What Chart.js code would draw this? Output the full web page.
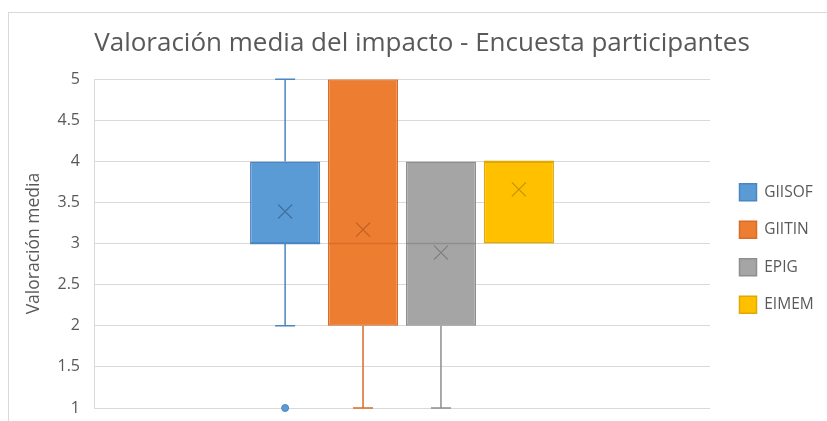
<!DOCTYPE html>
<html>
<head>
<meta charset="utf-8">
<script src="https://cdn.jsdelivr.net/npm/chart.js@4/dist/chart.umd.min.js"></script>
<style>
  html, body { margin: 0; padding: 0; background: #fff; }
  #wrap { position: relative; width: 827px; height: 421px; }
  #frame { position: absolute; left: 8px; top: 12px; right: -2px; bottom: -2px;
           border-top: 1px solid #d9d9d9; border-left: 1px solid #d9d9d9; }
  #c { position: absolute; left: 0; top: 0; }
</style>
</head>
<body>
<div id="wrap">
  <div id="frame"></div>
  <canvas id="c" width="827" height="421"></canvas>
</div>
<script>
const series = ['GIISOF', 'GIITIN', 'EPIG', 'EIMEM'];
const minVals = [2, 1, 1, 3];
const q1Vals = [3, 2, 2, 3];
const medianVals = [3, 3, 3, 4];
const q3Vals = [4, 5, 4, 4];
const maxVals = [5, 5, 4, 4];
const meanVals = [3.39, 3.17, 2.89, 3.66];
const outlierVals = [[1], [], [], []];
const yTicks = [1, 1.5, 2, 2.5, 3, 3.5, 4, 4.5, 5];

const fills = ['#5B9BD5', '#ED7D31', '#A5A5A5', '#FFC000'];
const edges = ['#4A86C2', '#D96D27', '#8E8E8E', '#E0A800'];
const marks = ['#41719C', '#BE5F26', '#7F7F7F', '#C49300'];

const boxExtras = {
  id: 'boxExtras',
  afterDatasetsDraw(chart) {
    const ctx = chart.ctx;
    const y = chart.scales.y;
    series.forEach((s, i) => {
      const bar = chart.getDatasetMeta(i).data[0];
      const x = bar.x, w = bar.width;
      ctx.save();
      ctx.strokeStyle = edges[i];
      ctx.lineWidth = 1.5;
      ctx.beginPath();
      if (maxVals[i] > q3Vals[i]) {
        ctx.moveTo(x, y.getPixelForValue(q3Vals[i]));
        ctx.lineTo(x, y.getPixelForValue(maxVals[i]));
        ctx.moveTo(x - 10, y.getPixelForValue(maxVals[i]));
        ctx.lineTo(x + 10, y.getPixelForValue(maxVals[i]));
      }
      if (minVals[i] < q1Vals[i]) {
        ctx.moveTo(x, y.getPixelForValue(q1Vals[i]));
        ctx.lineTo(x, y.getPixelForValue(minVals[i]));
        ctx.moveTo(x - 10, y.getPixelForValue(minVals[i]));
        ctx.lineTo(x + 10, y.getPixelForValue(minVals[i]));
      }
      const my = y.getPixelForValue(medianVals[i]);
      ctx.moveTo(x - w / 2, my);
      ctx.lineTo(x + w / 2, my);
      ctx.stroke();

      const mp = y.getPixelForValue(meanVals[i]);
      ctx.strokeStyle = marks[i];
      ctx.lineWidth = 1.2;
      ctx.beginPath();
      ctx.moveTo(x - 7, mp - 7); ctx.lineTo(x + 7, mp + 7);
      ctx.moveTo(x + 7, mp - 7); ctx.lineTo(x - 7, mp + 7);
      ctx.stroke();

      outlierVals[i].forEach(v => {
        ctx.fillStyle = fills[i];
        ctx.strokeStyle = edges[i];
        ctx.lineWidth = 1;
        ctx.beginPath();
        ctx.arc(x, y.getPixelForValue(v), 3.5, 0, Math.PI * 2);
        ctx.fill();
        ctx.stroke();
      });
      ctx.restore();
    });
  }
};

new Chart(document.getElementById('c'), {
  type: 'bar',
  data: {
    labels: [''],
    datasets: series.map((s, i) => ({
      label: s,
      data: [[q1Vals[i], q3Vals[i]]],
      backgroundColor: fills[i],
      borderColor: edges[i],
      borderWidth: 1.5,
      borderSkipped: false,
      categoryPercentage: 0.506,
      barPercentage: 0.9
    }))
  },
  options: {
    responsive: false,
    animation: false,
    layout: { padding: { left: 26, right: 9, top: 10, bottom: 13 } },
    plugins: {
      title: {
        display: true,
        text: 'Valoración media del impacto - Encuesta participantes',
        color: '#595959',
        font: { family: 'Open Sans', size: 26, weight: 'normal' },
        padding: { top: 18, bottom: 20 }
      },
      legend: {
        position: 'right',
        title: { display: true, text: '', font: { size: 10 }, padding: { top: 33, bottom: 34 } },
        labels: {
          boxWidth: 17,
          boxHeight: 17,
          padding: 20.5,
          color: '#595959',
          font: { family: 'Open Sans', size: 15.5 }
        }
      },
      tooltip: { enabled: false }
    },
    scales: {
      x: { display: false },
      y: {
        min: 1,
        max: 5,
        weight: 1,
        afterBuildTicks(axis) { axis.ticks = yTicks.map(v => ({ value: v })); },
        afterFit(axis) { axis.width = 54; },
        ticks: {
          color: '#595959', padding: 0, font: { family: 'Open Sans', size: 16 },
          callback: v => String(v)
        },
        grid: { color: '#d9d9d9', drawTicks: false },
        border: { display: false },
        title: {
          display: true,
          text: 'Valoración media',
          color: '#595959',
          font: { family: 'Open Sans', size: 17.5 },
          padding: { top: -2 }
        }
      },
      gapL: {
        position: 'left',
        weight: 0,
        display: true,
        min: 0,
        max: 1,
        ticks: { display: false },
        grid: { display: false },
        border: { display: true, color: '#d9d9d9' },
        afterFit(axis) { axis.width = 14; }
      },
      gap: {
        position: 'right',
        display: true,
        min: 0,
        max: 1,
        ticks: { display: false },
        grid: { display: false },
        border: { display: false },
        afterFit(axis) { axis.width = 9; }
      }
    }
  },
  plugins: [boxExtras]
});
</script>
</body>
</html>
